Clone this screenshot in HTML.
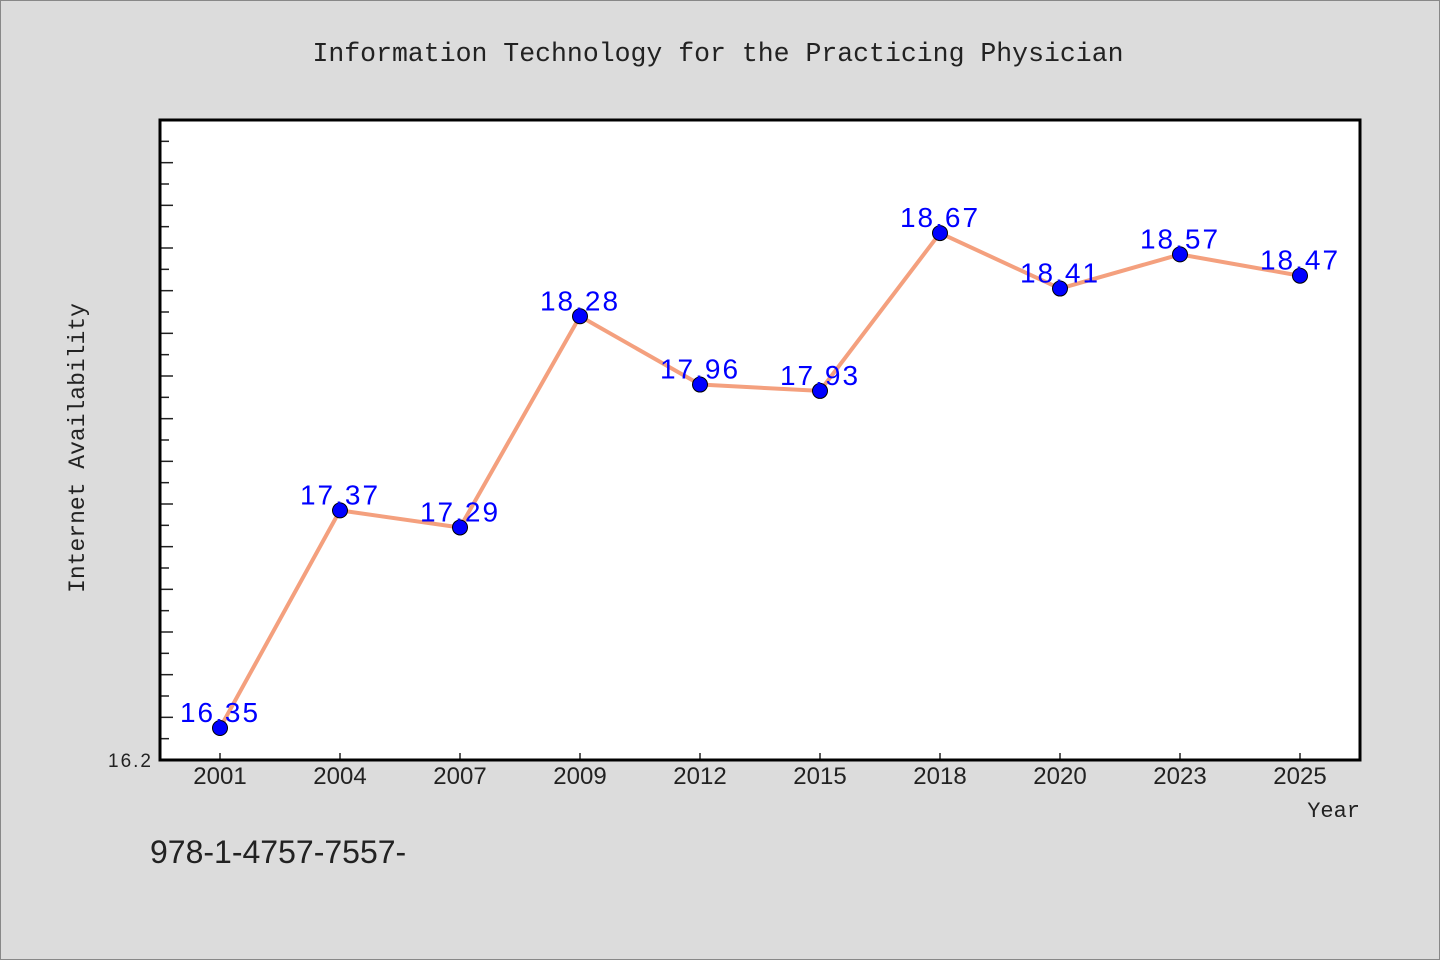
<!DOCTYPE html>
<html><head><meta charset="utf-8"><style>
html,body{margin:0;padding:0;background:#dcdcdc;}
svg{display:block;}
text{font-family:"Liberation Sans","WenQuanYi Zen Hei",sans-serif;}
.mono{font-family:"Liberation Mono","WenQuanYi Zen Hei",monospace;}
</style></head><body>
<svg id="chart" width="1440" height="960">
<rect x="0.5" y="0.5" width="1439" height="959" fill="#dcdcdc" stroke="#888"/>
<text class="mono" x="718" y="61" font-size="26.5" text-anchor="middle" fill="#222">Information Technology for the Practicing Physician</text>
<rect x="160" y="120" width="1200" height="640" fill="#fff"/>
<g id="ticks"></g>
<g id="series"></g>
<rect x="160" y="120" width="1200" height="640" fill="none" stroke="#000" stroke-width="3"/>
<text x="153" y="767" font-size="19" letter-spacing="2" text-anchor="end" fill="#222">16.2</text>
<text class="mono" x="84" y="448" font-size="23" text-anchor="middle" fill="#222" transform="rotate(-90 84 448)">Internet Availability</text>
<text class="mono" x="1360" y="817" font-size="22" text-anchor="end" fill="#222">Year</text>
<text x="150" y="863" font-size="32" fill="#222">978-1-4757-7557-</text>
</svg>
<script>
const categories=["2001","2004","2007","2009","2012","2015","2018","2020","2023","2025"];
const values=[16.35,17.37,17.29,18.28,17.96,17.93,18.67,18.41,18.57,18.47];
const valueLabels=["16.35","17.37","17.29","18.28","17.96","17.93","18.67","18.41","18.57","18.47"];
const yMin=16.2, yMax=19.2;
const L=160,R=1360,T=120,B=760;
const NS="http://www.w3.org/2000/svg";
const band=(R-L)/categories.length;
function xs(i){return L+band*(i+0.5);}
function ys(v){return B-(v-yMin)/(yMax-yMin)*(B-T);}
function mk(tag,attrs,parent){const e=document.createElementNS(NS,tag);for(const k in attrs)e.setAttribute(k,attrs[k]);parent.appendChild(e);return e;}
const tg=document.getElementById('ticks');
for(let k=1;k<30;k++){
  const v=yMin+k*0.1;const y=ys(v);const major=k%2===0;
  const t=mk('line',{x1:L,x2:L+(major?13:9),y1:y,y2:y,stroke:'#222','stroke-width':1.5},tg);
  
  
}
categories.forEach((c,i)=>{
  const x=xs(i);
  const t=mk('line',{x1:x,x2:x,y1:B-7,y2:B,stroke:'#222','stroke-width':1.5},tg);
  
  
  const lb=mk('text',{x:x,y:784,'font-size':24,'text-anchor':'middle',fill:'#222'},tg);
  lb.textContent=c;
  
  
});
const sg=document.getElementById('series');
const pts=values.map((v,i)=>xs(i)+','+ys(v)).join(' ');
const line=mk('polyline',{points:pts,fill:'none',stroke:'#f4a07e','stroke-width':4,'stroke-linejoin':'round'},sg);


values.forEach((v,i)=>{
  const c=mk('circle',{cx:xs(i),cy:ys(v),r:7.5,fill:'#0000ff',stroke:'#000','stroke-width':1},sg);
  
  
});
values.forEach((v,i)=>{
  const t=mk('text',{x:xs(i),y:ys(v)-6,'font-size':28,'letter-spacing':2,'text-anchor':'middle',fill:'#0000ff'},sg);
  t.textContent=valueLabels[i];
  
  
});
</script>
</body></html>
